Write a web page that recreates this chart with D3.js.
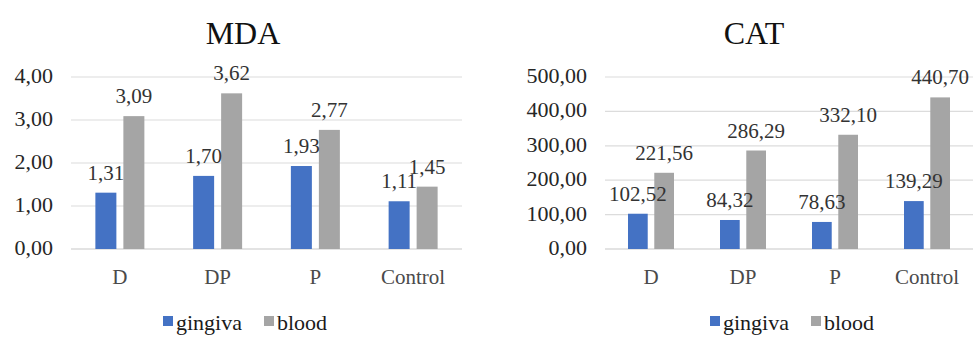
<!DOCTYPE html>
<html>
<head>
<meta charset="utf-8">
<script src="https://cdn.jsdelivr.net/npm/d3@7"></script>
<style>
  body { margin: 0; background: #fff; }
</style>
</head>
<body>
<div id="chart"></div>
<script>
// categories + series
const groups = ["D", "DP", "P", "Control"]
const seriesNames = ["gingiva", "blood"]
const seriesColors = ["#4472c4", "#a5a5a5"]

const mdaGingiva = [1.31, 1.70, 1.93, 1.11]
const mdaBlood = [3.09, 3.62, 2.77, 1.45]
const mdaTicks = [0, 1, 2, 3, 4]

const catGingiva = [102.52, 84.32, 78.63, 139.29]
const catBlood = [221.56, 286.29, 332.10, 440.70]
const catTicks = [0, 100, 200, 300, 400, 500]

const W = 974, H = 337
const SERIF = "'Liberation Serif', 'Times New Roman', Times, serif"

var svg = d3.select("#chart").append("svg")
	.attr("width", W)
	.attr("height", H)
	.attr("font-family", SERIF)

const fmt = v => d3.format(".2f")(v).replace(".", ",")

function drawChart(opts) {
	var g = svg.append("g")

	// title
	g.append("text")
		.attr("x", opts.titleX)
		.attr("y", 44)
		.attr("text-anchor", "middle")
		.attr("font-family", SERIF)
		.attr("font-size", 32)
		.attr("fill", "#111")
		.text(opts.title)

	var x = d3.scaleBand().domain(groups).range([opts.left, opts.right])
	var y = d3.scaleLinear().domain([0, d3.max(opts.ticks)]).range([249, 77])
	var bw = x.bandwidth()
	var xs = d3.scaleBand().domain(seriesNames)
		.range([bw / 2 - opts.groupW / 2, bw / 2 + opts.groupW / 2])
		.paddingInner(0.25)

	// gridlines
	g.selectAll("line.grid")
		.data(opts.ticks)
		.enter()
		.append("line")
		.attr("class", "grid")
		.attr("x1", opts.left)
		.attr("x2", opts.right)
		.attr("y1", d => y(d))
		.attr("y2", d => y(d))
		.attr("stroke", d => d === 0 ? "#c8c8c8" : "#dcdcdc")
		.attr("stroke-width", 1.2)

	// y tick labels
	g.selectAll("text.ytick")
		.data(opts.ticks)
		.enter()
		.append("text")
		.attr("class", "ytick")
		.attr("x", opts.left - 18)
		.attr("y", d => y(d) + 6)
		.attr("text-anchor", "end")
		.attr("font-family", SERIF)
		.attr("font-size", 22)
		.attr("fill", "#262626")
		.text(fmt)

	// x labels
	g.selectAll("text.xcat")
		.data(groups)
		.enter()
		.append("text")
		.attr("class", "xcat")
		.attr("x", d => x(d) + bw / 2)
		.attr("y", 284)
		.attr("text-anchor", "middle")
		.attr("font-family", SERIF)
		.attr("font-size", 21)
		.attr("fill", "#4a4a4a")
		.text(d => d)

	var rows = []
	groups.forEach(function(c, i) {
		rows.push({cat: c, s: "gingiva", v: opts.gingiva[i]})
		rows.push({cat: c, s: "blood", v: opts.blood[i]})
	})

	g.selectAll("rect.bar")
		.data(rows)
		.enter()
		.append("rect")
		.attr("class", "bar")
		.attr("x", d => x(d.cat) + xs(d.s))
		.attr("y", d => y(d.v))
		.attr("width", xs.bandwidth())
		.attr("height", d => y(0) - y(d.v))
		.attr("fill", d => seriesColors[seriesNames.indexOf(d.s)])

	// value labels (the reference lets 1,11 / 1,45 touch; keep them as close)
	g.selectAll("text.val")
		.data(rows)
		.enter()
		.append("text")
		.attr("class", "val")
		.attr("x", d => x(d.cat) + xs(d.s) + xs.bandwidth() / 2)
		.attr("y", d => y(d.v) - 13)
		.attr("text-anchor", "middle")
		.attr("font-family", SERIF)
		.attr("font-size", 21)
		.attr("fill", "#333")
		.text(d => fmt(d.v))

	// legend
	var lg = g.append("g").attr("transform", "translate(" + opts.legendX + ",0)")
	var lx = 0
	seriesNames.forEach(function(s, i) {
		lg.append("rect")
			.attr("x", lx)
			.attr("y", 316)
			.attr("width", 10)
			.attr("height", 10)
			.attr("fill", seriesColors[i])
		var t = lg.append("text")
			.attr("x", lx + 13)
			.attr("y", 330)
			.attr("font-family", SERIF)
			.attr("font-size", 22)
			.attr("fill", "#1a1a1a")
			.text(s)
		lx += 13 + t.node().getComputedTextLength() + 22
	})
}

drawChart({title: "MDA", titleX: 243, left: 71, right: 462, groupW: 49,
	ticks: mdaTicks, gingiva: mdaGingiva, blood: mdaBlood, legendX: 163})
drawChart({title: "CAT", titleX: 754, left: 605, right: 973, groupW: 46,
	ticks: catTicks, gingiva: catGingiva, blood: catBlood, legendX: 710})
</script>
</body>
</html>
